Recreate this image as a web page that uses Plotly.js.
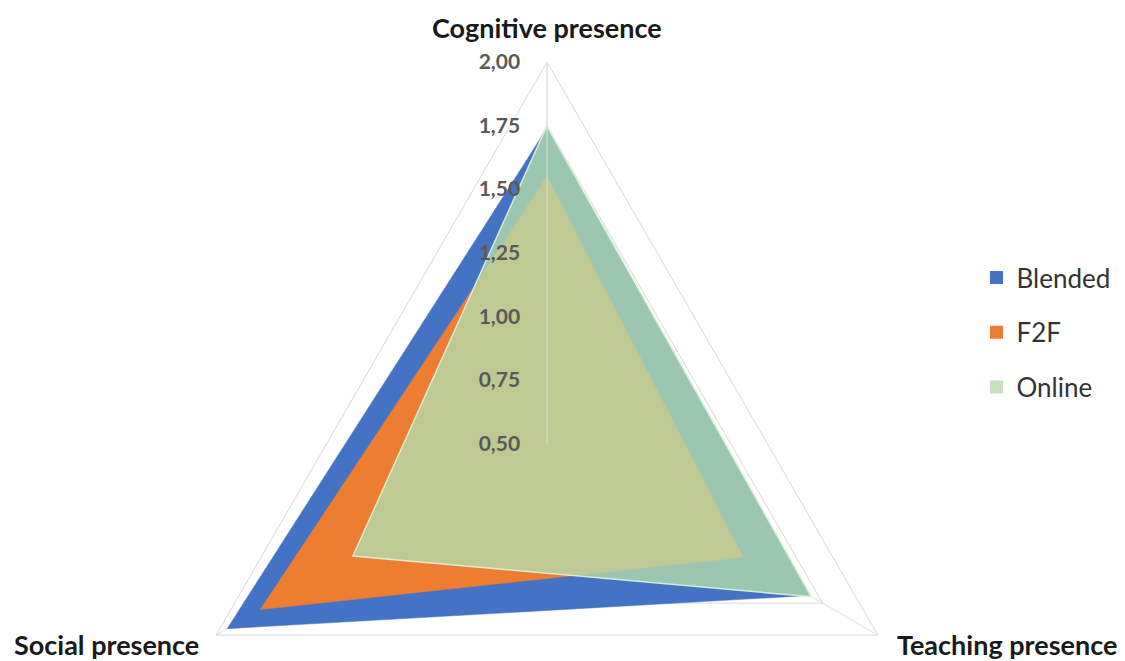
<!DOCTYPE html>
<html>
<head>
<meta charset="utf-8">
<script src="https://cdn.plot.ly/plotly-3.0.1.min.js"></script>
<style>
  html, body { margin: 0; padding: 0; background: #fff; }
  #wrap { width: 1125px; height: 661px; overflow: hidden; position: relative; }
  #chart { width: 1125px; height: 830px; position: absolute; left: 0; top: 0; }
</style>
</head>
<body>
<div id="wrap"><div id="chart"></div></div>
<script>
// ---- data ----
const categories = ['Cognitive presence', 'Teaching presence', 'Social presence'];
const seriesNames = ['Blended', 'F2F', 'Online'];
const blended = [1.74, 1.69, 1.95];
const f2f     = [1.55, 1.39, 1.80];
const online  = [1.75, 1.70, 1.38];
const radialTicks = [0.5, 0.75, 1.0, 1.25, 1.5, 1.75, 2.0];

// ---- styles ----
const fillColors = ['#4472C4', '#ED7D31', 'rgba(178,220,172,0.8)'];
const legendColors = ['#4472C4', '#ED7D31', '#C8E0BE'];
const values = [blended, f2f, online];

const W = 1125, H = 830;
const cx = 547, cy = 444, R = 382;

// category label placement (pixels from top-left of the page)
const labelPos = [
  { x: 547, y: 27, xanchor: 'center' },   // Cognitive presence
  { x: 895, y: 644, xanchor: 'left' },    // Teaching presence
  { x: 201, y: 644, xanchor: 'right' }    // Social presence
];

const traces = [];
values.forEach((v, i) => {
  traces.push({
    type: 'scatterpolar',
    r: v.concat([v[0]]),
    theta: categories.concat([categories[0]]),
    mode: 'lines',
    fill: 'toself',
    fillcolor: fillColors[i],
    line: { color: i === 2 ? 'rgba(225,242,218,0.9)' : fillColors[i], width: i === 2 ? 1.5 : 0.5 },
    showlegend: false,
    hoverinfo: 'skip'
  });
});
seriesNames.forEach((name, i) => {
  traces.push({
    type: 'scatterpolar',
    r: [null],
    theta: [categories[0]],
    mode: 'markers',
    name: name,
    legendgroup: name,
    marker: { symbol: 'square', size: 13, color: legendColors[i] },
    showlegend: true
  });
});

const annotations = categories.map((c, i) => ({
  text: c,
  xref: 'paper', yref: 'paper',
  x: labelPos[i].x / W, y: 1 - labelPos[i].y / H,
  xanchor: labelPos[i].xanchor, yanchor: 'middle',
  showarrow: false,
  font: { family: 'Lato, sans-serif', size: 27, color: '#1a1a1a', weight: 700 }
}));

const layout = {
  width: W, height: H,
  margin: { l: 0, r: 0, t: 0, b: 0 },
  paper_bgcolor: '#ffffff',
  separators: ', ',
  showlegend: true,
  annotations: annotations,
  legend: {
    x: 0.868, xanchor: 'left',
    y: 1 - 254 / H, yanchor: 'top',
    font: { family: 'Lato, sans-serif', size: 26, color: '#333333' },
    traceorder: 'grouped',
    tracegroupgap: 18,
    itemwidth: 30
  },
  polar: {
    domain: { x: [(cx - R) / W, (cx + R) / W], y: [1 - (cy + R) / H, 1 - (cy - R) / H] },
    bgcolor: 'rgba(0,0,0,0)',
    gridshape: 'linear',
    radialaxis: {
      range: [0.5, 2.0],
      tickvals: radialTicks,
      tickformat: '.2f',
      tickangle: 90,
      angle: 90,
      side: 'counterclockwise',
      showline: true,
      linecolor: '#d9e2d4',
      linewidth: 1,
      gridcolor: '#d9d9d9',
      gridwidth: 1,
      ticks: 'outside',
      ticklen: 19,
      tickcolor: 'rgba(0,0,0,0)',
      tickfont: { family: 'Lato, sans-serif', size: 21, color: '#595959', weight: 700 },
      layer: 'above traces'
    },
    angularaxis: {
      type: 'category',
      categoryarray: categories,
      direction: 'clockwise',
      rotation: 90,
      showline: true,
      linecolor: '#d9d9d9',
      linewidth: 1,
      gridcolor: '#dde3da',
      gridwidth: 1,
      ticks: '',
      showticklabels: false
    }
  }
};

Plotly.newPlot('chart', traces, layout, { displayModeBar: false, staticPlot: true });
</script>
</body>
</html>
